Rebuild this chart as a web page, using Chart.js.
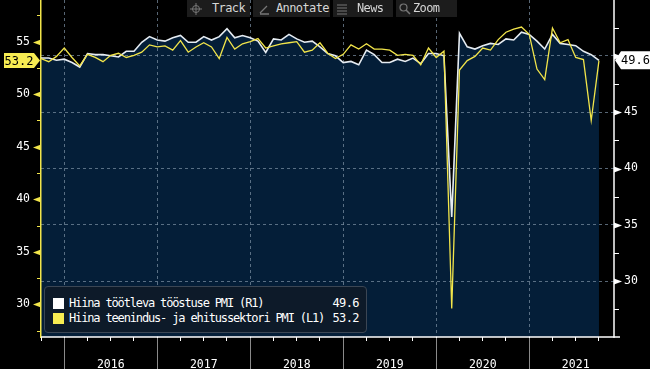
<!DOCTYPE html>
<html>
<head>
<meta charset="utf-8">
<script src="https://cdn.jsdelivr.net/npm/chart.js@4.4.0/dist/chart.umd.min.js"></script>
<style>
  html, body { margin: 0; padding: 0; background: #000; }
  #wrap { position: relative; width: 650px; height: 369px; overflow: hidden; background: #000; }
  #myChart { position: absolute; left: 0; top: -18px; display: block; }
  .btn { position: absolute; top: 0; height: 17px; background: #1c1c1c; color: #d6d6d6;
         font: 12px "DejaVu Sans Mono"; letter-spacing: -0.6px; line-height: 17px; white-space: nowrap; }
  .btn svg { position: absolute; top: 3px; }
  .btn span { position: absolute; top: 0; }
  #legend { position: absolute; left: 44px; top: 286px; width: 323px; height: 47px; box-sizing: border-box;
            background: #0d1a29; border: 1px solid #3b4654; border-radius: 4px;
            font: 12px "DejaVu Sans Mono"; letter-spacing: -1.15px; color: #fff; }
  .row { position: absolute; left: 8px; right: 7px; height: 15px; line-height: 15px; }
  .sw { position: absolute; left: 0; top: 2px; width: 11px; height: 11px; }
  .txt { position: absolute; left: 16px; }
  .val { position: absolute; right: 0; letter-spacing: -0.6px; }
</style>
</head>
<body>
<div id="wrap">
  <canvas id="myChart" width="650" height="387"></canvas>

  <div class="btn" style="left:187px;width:63px">
    <svg width="12" height="12" style="left:3px" viewBox="0 0 12 12"><circle cx="6" cy="6" r="3.5" fill="none" stroke="#777" stroke-width="1"/><path d="M6 0v12M0 6h12" stroke="#777" stroke-width="1"/></svg>
    <span style="left:25px">Track</span>
  </div>
  <div class="btn" style="left:253px;width:77px">
    <svg width="12" height="12" style="left:5px" viewBox="0 0 12 12"><path d="M2 10L9 3M2 11h9" stroke="#777" stroke-width="1.3"/></svg>
    <span style="left:23px">Annotate</span>
  </div>
  <div class="btn" style="left:333px;width:60px">
    <svg width="12" height="12" style="left:3px" viewBox="0 0 12 12"><path d="M1 2h10M1 5h10M1 8h10M1 11h10" stroke="#777" stroke-width="1.2"/></svg>
    <span style="left:24px">News</span>
  </div>
  <div class="btn" style="left:396px;width:61px">
    <svg width="12" height="12" style="left:3px" viewBox="0 0 12 12"><circle cx="4.5" cy="4.5" r="3.5" fill="none" stroke="#777" stroke-width="1.2"/><path d="M7 7l4 4" stroke="#777" stroke-width="1.6"/></svg>
    <span style="left:17px">Zoom</span>
  </div>

  <div id="legend">
    <div class="row" style="top:9px"><div class="sw" style="background:#fff"></div><span class="txt">Hiina töötleva tööstuse PMI (R1)</span><span class="val" id="v1"></span></div>
    <div class="row" style="top:24px"><div class="sw" style="background:#f7ec52"></div><span class="txt">Hiina teenindus- ja ehitussektori PMI (L1)</span><span class="val" id="v2"></span></div>
  </div>
</div>

<script>
// monthly, end of month, Sep 2015 .. Sep 2021
const months = [
  '2015-09','2015-10','2015-11','2015-12',
  '2016-01','2016-02','2016-03','2016-04','2016-05','2016-06','2016-07','2016-08','2016-09','2016-10','2016-11','2016-12',
  '2017-01','2017-02','2017-03','2017-04','2017-05','2017-06','2017-07','2017-08','2017-09','2017-10','2017-11','2017-12',
  '2018-01','2018-02','2018-03','2018-04','2018-05','2018-06','2018-07','2018-08','2018-09','2018-10','2018-11','2018-12',
  '2019-01','2019-02','2019-03','2019-04','2019-05','2019-06','2019-07','2019-08','2019-09','2019-10','2019-11','2019-12',
  '2020-01','2020-02','2020-03','2020-04','2020-05','2020-06','2020-07','2020-08','2020-09','2020-10','2020-11','2020-12',
  '2021-01','2021-02','2021-03','2021-04','2021-05','2021-06','2021-07','2021-08','2021-09'
];

// manufacturing PMI, right axis (R1)
const manufacturing = [
  49.8, 49.8, 49.6, 49.7,
  49.4, 49.0, 50.2, 50.1, 50.1, 50.0, 49.9, 50.4, 50.4, 51.2, 51.7, 51.4,
  51.3, 51.6, 51.8, 51.2, 51.2, 51.7, 51.4, 51.7, 52.4, 51.6, 51.8, 51.6,
  51.3, 50.3, 51.5, 51.4, 51.9, 51.5, 51.2, 51.3, 50.8, 50.2, 50.0, 49.4,
  49.5, 49.2, 50.5, 50.1, 49.4, 49.4, 49.7, 49.5, 49.8, 49.3, 50.2, 50.2,
  50.0, 35.7, 52.0, 50.8, 50.6, 50.9, 51.1, 51.0, 51.5, 51.4, 52.1, 51.9,
  51.3, 50.6, 51.9, 51.1, 51.0, 50.9, 50.4, 50.1, 49.6
];

// services and construction PMI, left axis (L1)
const services = [
  53.4, 53.1, 53.6, 54.4,
  53.5, 52.7, 53.8, 53.5, 53.1, 53.7, 53.9, 53.5, 53.7, 54.0, 54.7, 54.5,
  54.6, 54.2, 55.1, 54.0, 54.5, 54.9, 54.5, 53.4, 55.4, 54.3, 54.8, 55.0,
  55.3, 54.4, 54.6, 54.8, 54.9, 55.0, 54.0, 54.2, 54.9, 53.9, 53.4, 53.8,
  54.7, 54.3, 54.8, 54.3, 54.3, 54.2, 53.7, 53.8, 53.7, 52.8, 54.4, 53.5,
  54.1, 29.6, 52.3, 53.2, 53.6, 54.4, 54.2, 55.2, 55.9, 56.2, 56.4, 55.7,
  52.4, 51.4, 56.3, 54.9, 55.2, 53.5, 53.3, 47.5, 53.2
];

const yearLabels = ['2016', '2017', '2018', '2019', '2020', '2021'];
const leftTicks = [27.5, 30, 32.5, 35, 37.5, 40, 42.5, 45, 47.5, 50, 52.5, 55, 57.5];
const rightTicks = [27.5, 30, 32.5, 35, 37.5, 40, 42.5, 45, 47.5, 50, 52.5, 55];
const rightLabels = [30, 35, 40, 45];

const YELLOW = '#f2e54a';
const WHITE = '#e6ecf2';
const NAVY = '#041e38';
const DASH = 'rgba(125,145,165,0.7)';

const lastM = manufacturing[manufacturing.length - 1];
const lastS = services[services.length - 1];
document.getElementById('v1').textContent = lastM.toFixed(1);
document.getElementById('v2').textContent = lastS.toFixed(1);

Chart.defaults.font.family = 'DejaVu Sans Mono';
Chart.defaults.color = '#fff';

function tri(ctx, x, y, dir, fill) {
  ctx.fillStyle = fill;
  ctx.beginPath();
  ctx.moveTo(x, y - 3);
  ctx.lineTo(x, y + 3);
  ctx.lineTo(x + dir * 8, y);
  ctx.closePath();
  ctx.fill();
}

function valueBox(ctx, tipX, y, dir, w, h, bg, text) {
  // dir -1: box left of tip, +1: box right of tip
  const base = tipX + dir * 6;
  const far = base + dir * w;
  ctx.fillStyle = bg;
  ctx.beginPath();
  ctx.moveTo(tipX, y);
  ctx.lineTo(base, y - h / 2);
  ctx.lineTo(far, y - h / 2);
  ctx.lineTo(far, y + h / 2);
  ctx.lineTo(base, y + h / 2);
  ctx.closePath();
  ctx.fill();
  ctx.fillStyle = '#000';
  ctx.font = '12px "DejaVu Sans Mono"';
  ctx.textAlign = 'center';
  ctx.textBaseline = 'middle';
  ctx.fillText(text, (base + far) / 2, y + 1);
}

const decor = {
  id: 'decor',
  afterDraw(chart) {
    const ctx = chart.ctx, a = chart.chartArea;
    const yL = chart.scales.yL, yR = chart.scales.yR, x = chart.scales.x;
    ctx.save();

    // solid axis lines
    ctx.strokeStyle = '#fff';
    ctx.lineWidth = 1.5;
    ctx.beginPath(); ctx.moveTo(a.right, 0); ctx.lineTo(a.right, a.bottom + 0.75); ctx.stroke();
    ctx.beginPath(); ctx.moveTo(a.left, a.bottom); ctx.lineTo(a.right + 6, a.bottom); ctx.stroke();

    // left axis ticks
    ctx.strokeStyle = YELLOW;
    ctx.lineWidth = 1;
    leftTicks.forEach(v => {
      const y = Math.round(yL.getPixelForValue(v)) + 0.5;
      if (v % 5 === 0) {
        tri(ctx, a.left, y, -1, YELLOW);
      } else {
        ctx.beginPath(); ctx.moveTo(a.left - 4, y); ctx.lineTo(a.left, y); ctx.stroke();
      }
    });

    // right axis ticks
    ctx.strokeStyle = '#fff';
    rightTicks.forEach(v => {
      const y = Math.round(yR.getPixelForValue(v)) + 0.5;
      if (v % 5 === 0 && v < 55) {
        tri(ctx, a.right, y, 1, '#fff');
      } else {
        ctx.beginPath(); ctx.moveTo(a.right, y); ctx.lineTo(a.right + 5, y); ctx.stroke();
      }
    });

    // year separators under the axis
    ctx.strokeStyle = '#8a8a8a';
    for (let i = 0; i <= yearLabels.length; i++) {
      const px = Math.round(x.getPixelForValue(3 + 12 * i)) + 0.5;
      if (px > a.right) break;
      ctx.beginPath(); ctx.moveTo(px, a.bottom + 1); ctx.lineTo(px, chart.height); ctx.stroke();
    }

    // last value boxes
    valueBox(ctx, a.left - 1, yL.getPixelForValue(lastS), -1, 30, 15, '#f7ec52', lastS.toFixed(1));
    valueBox(ctx, a.right + 1, yR.getPixelForValue(lastM), 1, 29, 18, '#fff', lastM.toFixed(1));
    ctx.restore();
  }
};

const data = {
  labels: months,
  datasets: [
    {
      label: 'Hiina teenindus- ja ehitussektori PMI (L1)',
      data: services.map((v, i) => ({ x: i, y: v })),
      yAxisID: 'yL',
      borderColor: YELLOW,
      borderWidth: 1.3,
      pointRadius: 0,
      fill: false
    },
    {
      label: 'Hiina töötleva tööstuse PMI (R1)',
      data: manufacturing.map((v, i) => ({ x: i, y: v })),
      yAxisID: 'yR',
      borderColor: WHITE,
      borderWidth: 1.6,
      pointRadius: 0,
      fill: 'start',
      backgroundColor: NAVY
    }
  ]
};

const tickFont = { size: 11.5, lineHeight: '14px' };

const config = {
  type: 'line',
  data: data,
  options: {
    responsive: false,
    animation: false,
    layout: { padding: 0 },
    plugins: {
      legend: { display: false },
      tooltip: { enabled: false },
      filler: { drawTime: 'beforeDraw' }
    },
    scales: {
      x: {
        type: 'linear',
        position: 'bottom',
        min: 0,
        max: 73.94,
        afterFit: s => { s.height = 32; },
        afterBuildTicks: s => {
          const t = [];
          for (let v = 0; v <= 72; v += 3) t.push({ value: v });
          s.ticks = t;
        },
        grid: {
          color: c => (c.tick && (c.tick.value - 3) % 12 === 0) ? DASH : 'transparent',
          lineWidth: 1,
          drawTicks: true,
          tickLength: 4,
          tickColor: '#fff'
        },
        border: { display: false, dash: [3, 3] },
        ticks: {
          autoSkip: false,
          maxRotation: 0,
          padding: 17,
          font: tickFont,
          color: '#fff',
          callback: v => {
            const k = (v - 9) / 12;
            return Number.isInteger(k) && yearLabels[k] ? yearLabels[k] : '';
          }
        }
      },
      yL: {
        type: 'linear',
        position: 'left',
        min: 26.89,
        max: 58.97,
        afterFit: s => { s.width = 41; },
        afterBuildTicks: s => { s.ticks = leftTicks.map(v => ({ value: v })); },
        grid: { drawOnChartArea: false, drawTicks: false },
        border: { color: YELLOW, width: 1.5 },
        ticks: {
          padding: 11,
          font: tickFont,
          color: '#fff',
          callback: v => (v % 5 === 0 ? String(v) : '')
        }
      },
      yR: {
        type: 'linear',
        position: 'right',
        min: 25.05,
        max: 54.95,
        afterFit: s => { s.width = 36; },
        afterBuildTicks: s => { s.ticks = rightTicks.map(v => ({ value: v })); },
        grid: {
          drawTicks: false,
          color: c => (c.tick && c.tick.value % 5 === 0) ? DASH : 'transparent',
          lineWidth: 1
        },
        border: { display: false, dash: [3, 3] },
        ticks: {
          padding: 10,
          font: tickFont,
          color: '#fff',
          callback: v => (rightLabels.includes(v) ? String(v) : '')
        }
      }
    }
  },
  plugins: [decor]
};

const myChart = new Chart(document.getElementById('myChart'), config);
</script>
</body>
</html>
